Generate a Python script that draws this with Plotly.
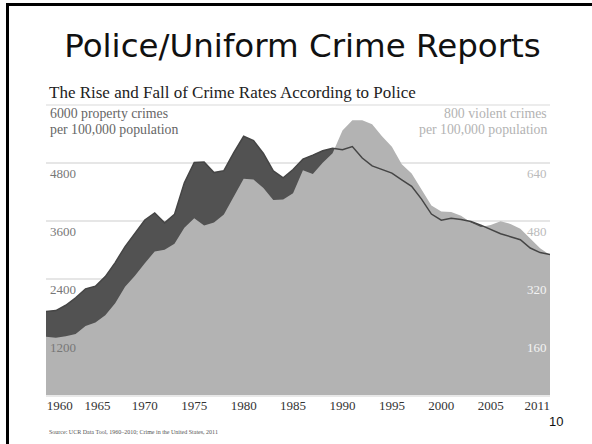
import plotly.graph_objects as go

years = list(range(1960, 2012))
property_rate = [1726, 1747, 1857, 2012, 2197, 2249, 2450, 2740, 3071, 3351,
                 3621, 3768, 3561, 3737, 4389, 4811, 4820, 4602, 4642, 5016,
                 5353, 5264, 4997, 4637, 4492, 4666, 4881, 4963, 5054, 5107,
                 5073, 5140, 4903, 4740, 4660, 4591, 4451, 4316, 4053, 3744,
                 3618, 3658, 3630, 3591, 3514, 3432, 3335, 3276, 3214, 3041,
                 2946, 2909]
violent_rate = [160.9, 158.1, 162.3, 168.2, 190.6, 200.2, 220.0, 253.2, 298.4, 328.7,
                363.5, 396.0, 401.0, 417.4, 461.1, 487.8, 467.8, 475.9, 497.8, 548.9,
                596.6, 594.3, 571.1, 537.7, 539.2, 556.6, 620.1, 609.7, 640.6, 666.9,
                729.6, 758.2, 757.7, 747.1, 713.6, 684.5, 636.6, 611.0, 567.6, 523.0,
                506.5, 504.5, 494.4, 475.8, 463.2, 469.0, 479.3, 471.8, 458.6, 431.9,
                404.5, 386.3]

xtick_pos = [1961.4, 1965.2, 1970, 1975, 1980, 1985, 1990, 1995, 2000, 2005, 2009.7]
xtick_text = ["1960", "1965", "1970", "1975", "1980", "1985", "1990", "1995", "2000", "2005", "2011"]
left_ticks = [1200, 2400, 3600, 4800, 6000]
left_labels = ["1200", "2400", "3600", "4800"]
right_ticks = [160, 320, 480, 640, 800]
right_labels = ["160", "320", "480", "640"]
right_label_colors = ["#f4f4f4", "#f4f4f4", "#bbbbbb", "#bbbbbb"]

SERIF = "Liberation Serif"
GRID = "#e6e6e6"

fig = go.Figure()
fig.add_trace(go.Scatter(x=years, y=property_rate, fill="tozeroy", mode="lines",
                         line=dict(width=0, color="#525252"), fillcolor="#525252",
                         yaxis="y", hoverinfo="skip", showlegend=False))
fig.add_trace(go.Scatter(x=years, y=violent_rate, fill="tozeroy", mode="lines",
                         line=dict(width=0, color="#b3b3b3"), fillcolor="#b3b3b3",
                         yaxis="y2", hoverinfo="skip", showlegend=False))
fig.add_trace(go.Scatter(x=years, y=property_rate, mode="lines",
                         line=dict(width=1.5, color="#454545"),
                         yaxis="y3", hoverinfo="skip", showlegend=False))

fig.update_layout(
    width=592, height=444,
    margin=dict(l=46, r=42, t=105, b=49),
    paper_bgcolor="white", plot_bgcolor="white",
    title=dict(text="Police/Uniform Crime Reports", x=302.5 / 592, xanchor="center",
               y=1 - 46 / 444, yanchor="middle",
               font=dict(family="DejaVu Sans", size=32.5, color="#111111")),
    xaxis=dict(range=[1960, 2011], tickvals=xtick_pos, ticktext=xtick_text,
               showgrid=False, zeroline=False, showline=True, linecolor="#e8e8e8", linewidth=2,
               ticks="", ticklabelstandoff=-3,
               tickfont=dict(family=SERIF, size=13, color="#333333")),
    yaxis=dict(range=[0, 6000], tickvals=left_ticks, showticklabels=False,
               showgrid=True, gridcolor=GRID, gridwidth=1.5, zeroline=False, ticks=""),
    yaxis2=dict(range=[0, 800], overlaying="y", side="right", tickvals=right_ticks,
                showticklabels=False, showgrid=False, zeroline=False, ticks=""),
    yaxis3=dict(range=[0, 6000], overlaying="y", visible=False),
)

ann = [
    dict(text="The Rise and Fall of Crime Rates According to Police", x=(47 - 46) / 504,
         y=(395 - 92) / 290, xanchor="left", yanchor="middle",
         font=dict(family=SERIF, size=17, color="#222222")),
    dict(text="6000 property crimes", x=(48 - 46) / 504, y=(395 - 114) / 290,
         xanchor="left", yanchor="middle", font=dict(family=SERIF, size=13.8, color="#666666")),
    dict(text="per 100,000 population", x=(48 - 46) / 504, y=(395 - 129) / 290,
         xanchor="left", yanchor="middle", font=dict(family=SERIF, size=13.8, color="#666666")),
    dict(text="800 violent crimes", x=(549 - 46) / 504, y=(395 - 114) / 290,
         xanchor="right", yanchor="middle", font=dict(family=SERIF, size=13.8, color="#b3b3b3")),
    dict(text="per 100,000 population", x=(549 - 46) / 504, y=(395 - 129) / 290,
         xanchor="right", yanchor="middle", font=dict(family=SERIF, size=13.8, color="#b3b3b3")),
    dict(text="Source: UCR Data Tool, 1960\u20132010; Crime in the United States, 2011",
         x=(47 - 46) / 504, y=(395 - 432) / 290, xanchor="left", yanchor="middle",
         font=dict(family=SERIF, size=6, color="#555555")),
    dict(text="10", x=(556 - 46) / 504, y=(395 - 421) / 290, xanchor="center", yanchor="middle",
         font=dict(family="Liberation Sans", size=13, color="#111111")),
]
for a in ann:
    a.update(xref="paper", yref="paper")
for v, t in zip(left_ticks, left_labels):
    ann.append(dict(text=t, xref="paper", x=(48 - 46) / 504, yref="y", y=v,
                    xanchor="left", yanchor="top", yshift=-1,
                    font=dict(family=SERIF, size=13, color="#777777")))
for v, t, c in zip(right_ticks, right_labels, right_label_colors):
    ann.append(dict(text=t, xref="paper", x=(549 - 46) / 504, yref="y2", y=v,
                    xanchor="right", yanchor="top", yshift=-1,
                    font=dict(family=SERIF, size=13, color=c)))
for a in ann:
    a["showarrow"] = False
fig.update_layout(annotations=ann)

# top gridline (6000 / 800) at the upper edge of the plot
fig.add_shape(type="line", xref="paper", yref="paper", x0=0, x1=1, y0=1, y1=1,
              line=dict(color=GRID, width=1.5), layer="below")
# slide frame (left and top edges)
fig.add_shape(type="line", xref="paper", yref="paper",
              x0=(7.5 - 46) / 504, x1=(7.5 - 46) / 504, y0=(395 - 444) / 290, y1=(395 - 4.5) / 290,
              line=dict(color="black", width=3))
fig.add_shape(type="line", xref="paper", yref="paper",
              x0=(6 - 46) / 504, x1=(592 - 46) / 504, y0=(395 - 4.5) / 290, y1=(395 - 4.5) / 290,
              line=dict(color="black", width=3))

fig.write_html("out.html", config={"displayModeBar": False},
               post_script="document.body.style.margin='0';")
